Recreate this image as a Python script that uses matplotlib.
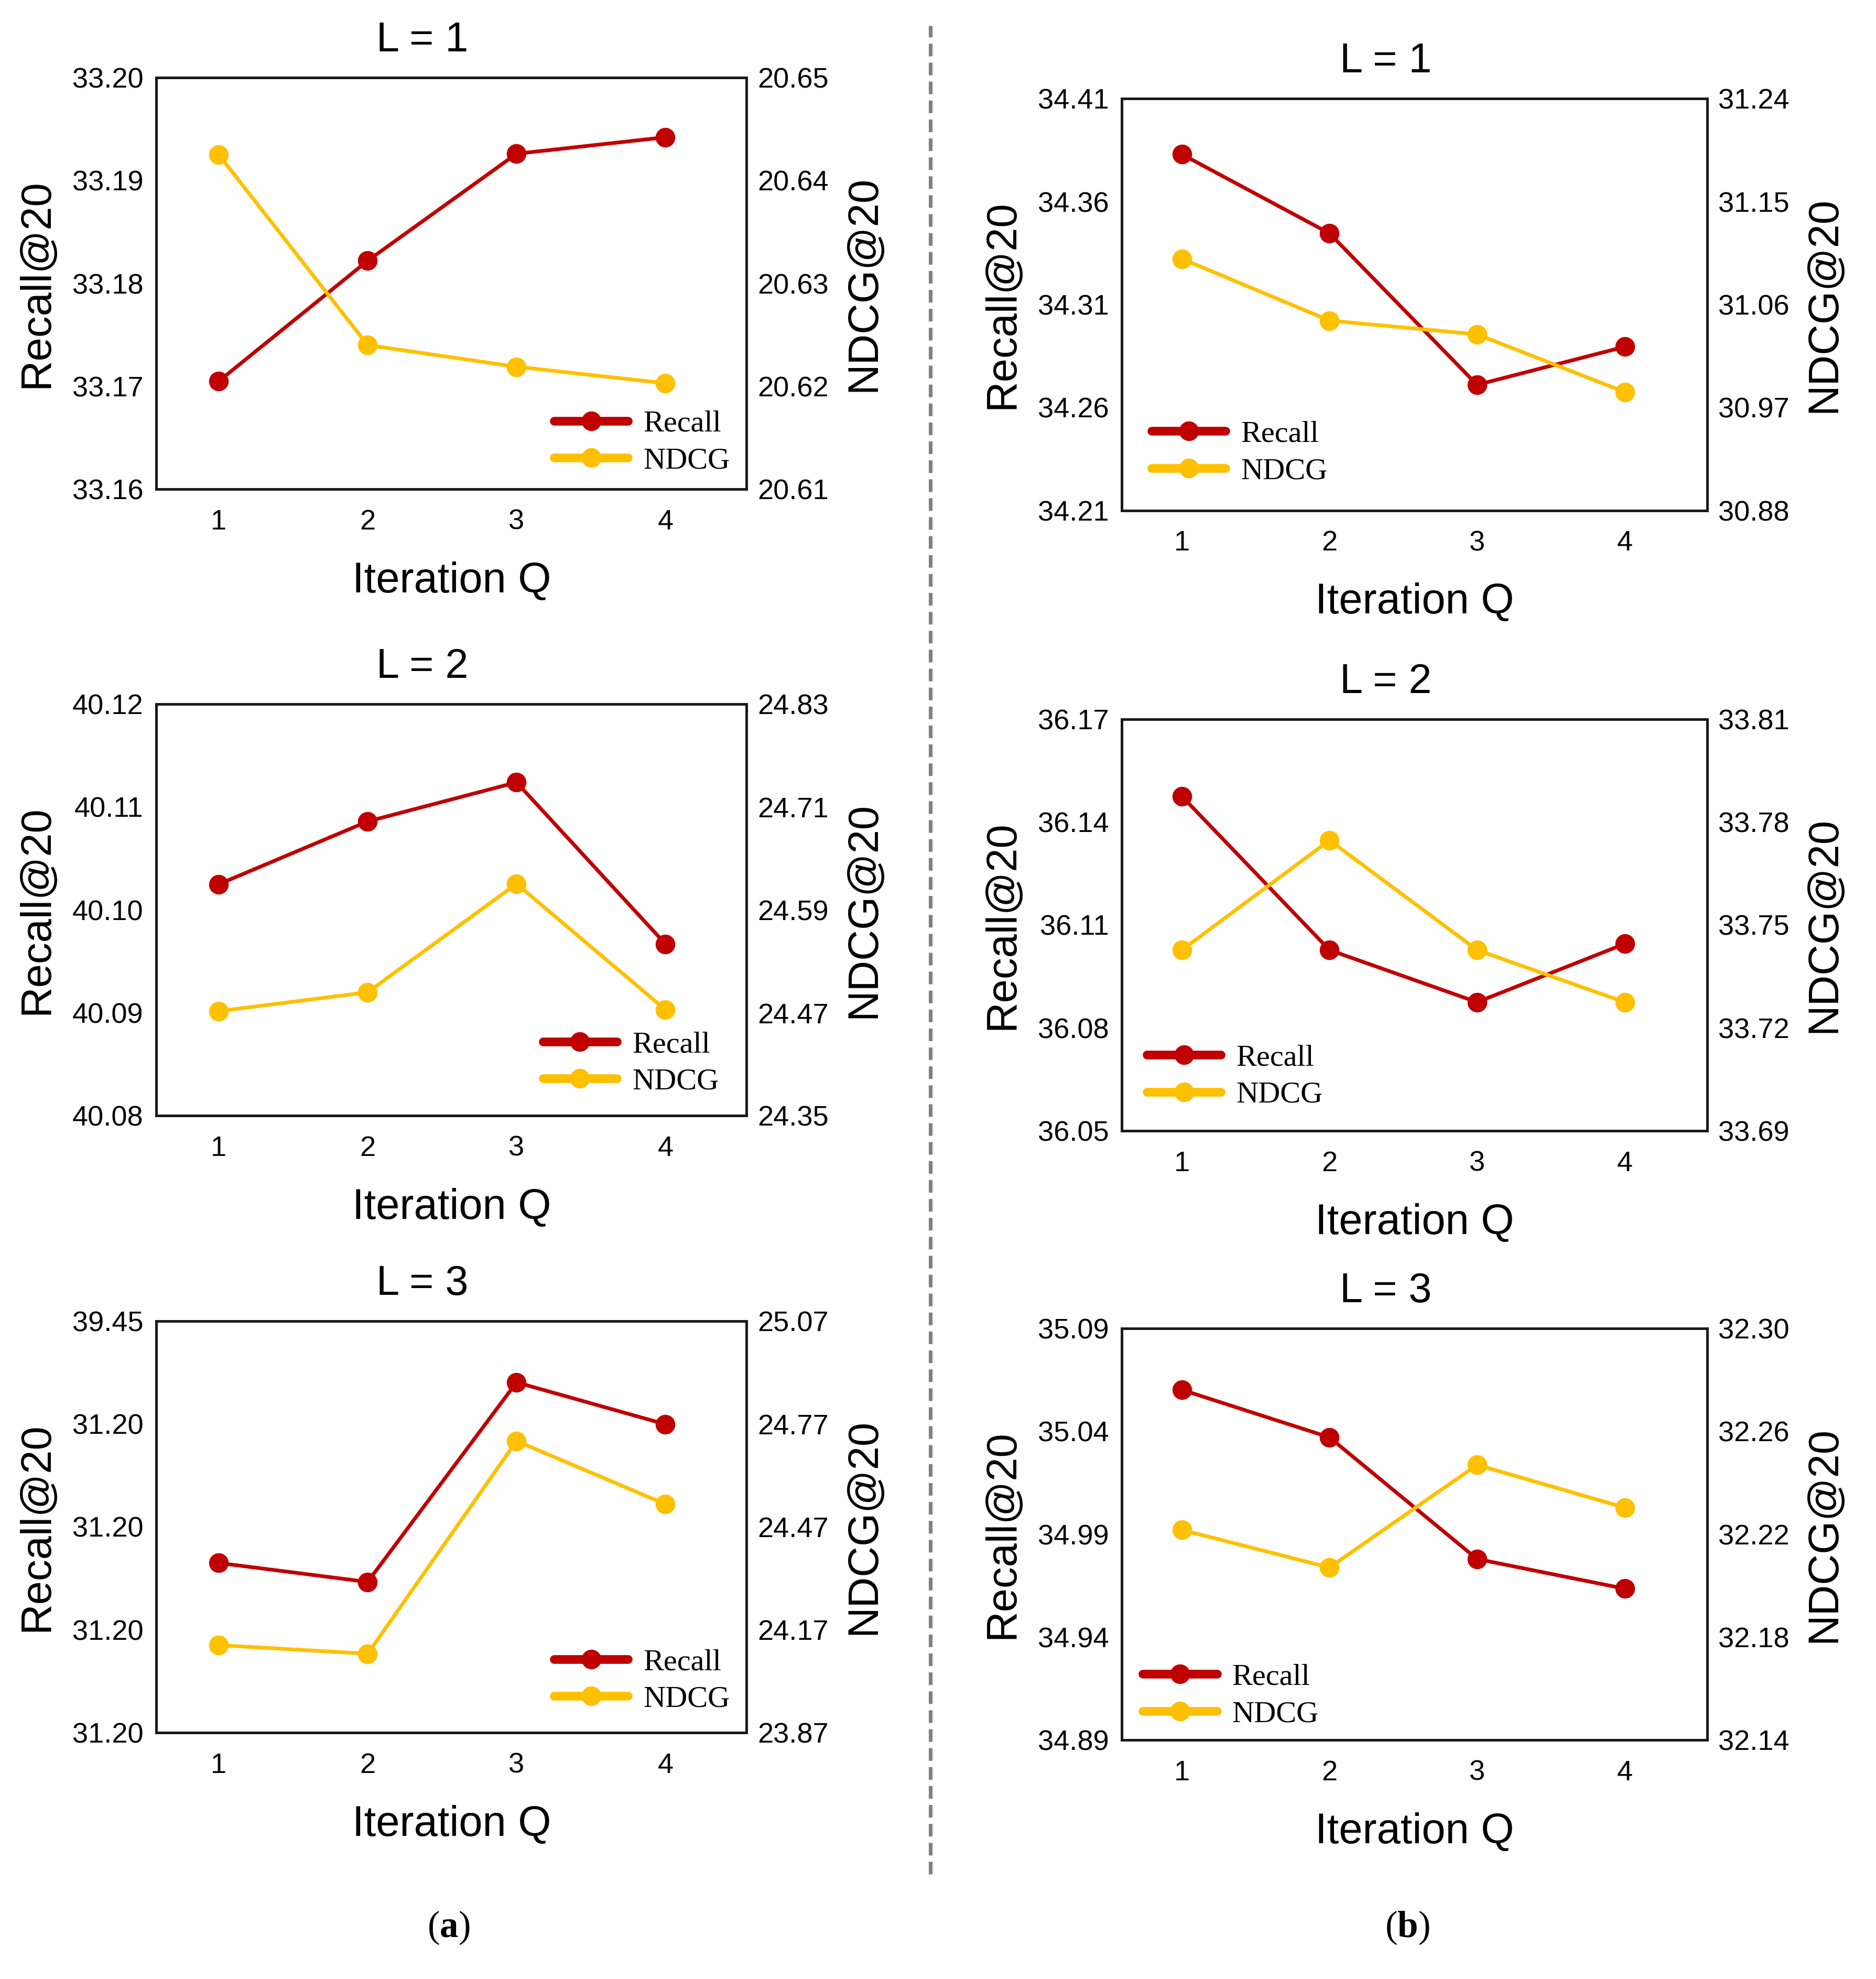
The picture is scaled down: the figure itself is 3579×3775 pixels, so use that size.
import matplotlib
matplotlib.use("Agg")
import matplotlib.pyplot as plt
from matplotlib.lines import Line2D
from matplotlib.ticker import FixedLocator, FixedFormatter

plt.rcParams['font.family'] = ['Liberation Sans', 'DejaVu Sans']
plt.rcParams['mathtext.fontset'] = 'custom'
plt.rcParams['mathtext.bf'] = 'Liberation Serif:bold'
plt.rcParams['mathtext.rm'] = 'Liberation Serif'

# ---------------- data ----------------
iterations = [1, 2, 3, 4]
titles = ["L = 1", "L = 2", "L = 3"]

# (a) left column
a_recall = [
    [33.1705, 33.1822, 33.1926, 33.1942],
    [40.1025, 40.1086, 40.1124, 40.0967],
    [34.60, 34.22, 38.22, 37.38],
]
a_ndcg = [
    [20.6425, 20.6240, 20.6219, 20.6203],
    [24.472, 24.494, 24.6205, 24.4737],
    [24.125, 24.100, 24.720, 24.536],
]
a_recall_ticks = [
    [33.16, 33.17, 33.18, 33.19, 33.20],
    [40.08, 40.09, 40.10, 40.11, 40.12],
    [31.20, 33.2625, 35.325, 37.3875, 39.45],
]
a_recall_ticklabels = [
    ["33.16", "33.17", "33.18", "33.19", "33.20"],
    ["40.08", "40.09", "40.10", "40.11", "40.12"],
    ["31.20", "31.20", "31.20", "31.20", "39.45"],
]
a_ndcg_ticks = [
    [20.61, 20.62, 20.63, 20.64, 20.65],
    [24.35, 24.47, 24.59, 24.71, 24.83],
    [23.87, 24.17, 24.47, 24.77, 25.07],
]

# (b) right column
b_recall = [
    [34.383, 34.3446, 34.271, 34.2895],
    [36.1475, 36.1027, 36.0875, 36.1045],
    [35.0602, 35.0371, 34.978, 34.9636],
]
b_ndcg = [
    [31.100, 31.046, 31.034, 30.9835],
    [33.7427, 33.7747, 33.7427, 33.7275],
    [32.2217, 32.2071, 32.247, 32.2304],
]
b_recall_ticks = [
    [34.21, 34.26, 34.31, 34.36, 34.41],
    [36.05, 36.08, 36.11, 36.14, 36.17],
    [34.89, 34.94, 34.99, 35.04, 35.09],
]
b_ndcg_ticks = [
    [30.88, 30.97, 31.06, 31.15, 31.24],
    [33.69, 33.72, 33.75, 33.78, 33.81],
    [32.14, 32.18, 32.22, 32.26, 32.30],
]

RED = "#C00000"
YEL = "#FFC000"

fig = plt.figure(figsize=(3579 / 300, 3775 / 300), dpi=300)

left_pos = [(0.0833, 0.7528), (0.0833, 0.4362), (0.0833, 0.1245)]
right_pos = [(0.598, 0.7421), (0.598, 0.4286), (0.598, 0.1207)]
left_w, right_w, h = 0.3147, 0.312, 0.208

a_leg = [(0.674, 0.114), (0.655, 0.128), (0.674, 0.126)]
b_leg = [(0.051, 0.140), (0.043, 0.132), (0.036, 0.108)]


def draw(pos, w, recall, ndcg, rticks, rlabels, nticks, title, xlim, legxy):
    ax = fig.add_axes([pos[0], pos[1], w, h])
    ax2 = ax.twinx()
    ax.plot(iterations, recall, color=RED, lw=1.7, marker='o', ms=8, zorder=3)
    ax2.plot(iterations, ndcg, color=YEL, lw=1.7, marker='o', ms=8, zorder=3)
    ax.set_xlim(*xlim)
    ax.set_xticks(iterations)
    ax.set_ylim(rticks[0], rticks[-1])
    ax2.set_ylim(nticks[0], nticks[-1])
    ax.yaxis.set_major_locator(FixedLocator(rticks))
    ax.yaxis.set_major_formatter(FixedFormatter(rlabels))
    ax2.yaxis.set_major_locator(FixedLocator(nticks))
    ax2.yaxis.set_major_formatter(FixedFormatter(["%.2f" % t for t in nticks]))
    ax.tick_params(axis='both', length=0, labelsize=13)
    ax.tick_params(axis='y', pad=6)
    ax.tick_params(axis='x', pad=9)
    ax2.tick_params(axis='y', length=0, labelsize=13, pad=5)
    for a in (ax, ax2):
        for s in a.spines.values():
            s.set_linewidth(1.2)
            s.set_color('#1a1a1a')
    ax.set_xlabel("Iteration Q", fontsize=19.5, labelpad=12)
    ax.set_ylabel("Recall@20", fontsize=19.5, labelpad=7)
    ax2.set_ylabel("NDCG@20", fontsize=19.5, labelpad=7, rotation=90)
    ax.set_title(title, fontsize=19, x=0.451, pad=12)
    handles = [
        Line2D([], [], color=RED, lw=4, marker='o', ms=8, solid_capstyle='round'),
        Line2D([], [], color=YEL, lw=4, marker='o', ms=8, solid_capstyle='round'),
    ]
    ax2.legend(handles, ["Recall", "NDCG"], loc='center left',
               bbox_to_anchor=legxy, bbox_transform=ax.transAxes,
               frameon=False, borderpad=0, borderaxespad=0,
               handlelength=2.42, handletextpad=0.5, labelspacing=0.3,
               prop={'family': 'Liberation Serif', 'size': 14})
    return ax


for i in range(3):
    draw(left_pos[i], left_w, a_recall[i], a_ndcg[i], a_recall_ticks[i],
         a_recall_ticklabels[i], a_ndcg_ticks[i], titles[i], (0.580, 4.546), a_leg[i])
    draw(right_pos[i], right_w, b_recall[i], b_ndcg[i], b_recall_ticks[i],
         ["%.2f" % t for t in b_recall_ticks[i]], b_ndcg_ticks[i], titles[i],
         (0.593, 4.559), b_leg[i])

fig.add_artist(Line2D([0.496, 0.496], [0.053, 0.987], transform=fig.transFigure,
                      color='#808080', lw=1.7, linestyle=(0, (3.4, 1.7))))

fig.text(0.239, 0.026, r"($\mathbf{a}$)", ha='center', va='center', fontsize=17,
         family='Liberation Serif')
fig.text(0.750, 0.026, r"($\mathbf{b}$)", ha='center', va='center', fontsize=17,
         family='Liberation Serif')

fig.savefig("out.png", dpi=300, facecolor='white')
